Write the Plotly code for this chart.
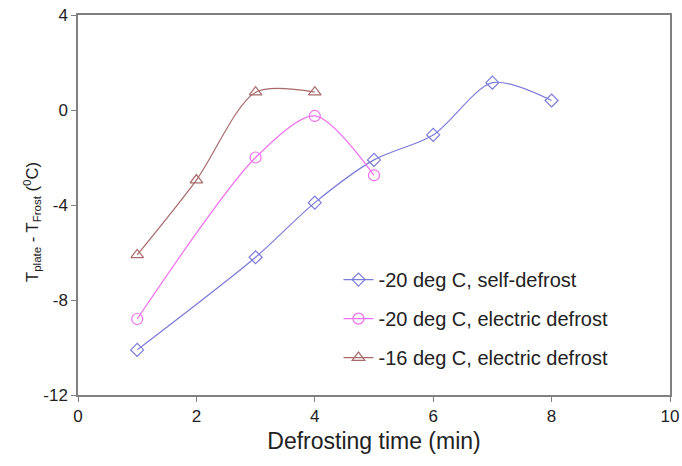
import plotly.graph_objects as go

x_self = [1, 3, 4, 5, 6, 7, 8]
y_self = [-10.1, -6.2, -3.9, -2.1, -1.05, 1.15, 0.4]
x_elec20 = [1, 3, 4, 5]
y_elec20 = [-8.8, -2.0, -0.25, -2.75]
x_elec16 = [1, 2, 3, 4]
y_elec16 = [-6.1, -2.95, 0.75, 0.75]
names = ["-20 deg C, self-defrost", "-20 deg C, electric defrost", "-16 deg C, electric defrost"]
x_ticks = [0, 2, 4, 6, 8, 10]
y_ticks = [4, 0, -4, -8, -12]
y_tick_labels = ["4", "0", "-4", "-8", "-12"]

FONT = "Liberation Sans, Arial, sans-serif"

fig = go.Figure()
series = [
    (x_self, y_self, names[0], "#7b7bd9", "diamond-open", 10, "g1"),
    (x_elec20, y_elec20, names[1], "#f070f0", "circle-open", 11, "g2"),
    (x_elec16, y_elec16, names[2], "#a86a6a", "triangle-up-open", 11, "g3"),
]
for xs, ys, nm, col, sym, sz, grp in series:
    fig.add_trace(go.Scatter(
        x=xs, y=ys, name=nm, mode="lines+markers", legendgroup=grp,
        line=dict(color=col, width=1.2, shape="spline", smoothing=0.8),
        marker=dict(symbol=sym, size=sz, color=col, line=dict(width=1.2, color=col)),
    ))

axis_common = dict(showline=True, linecolor="#808080", linewidth=1.5, mirror=True,
                   ticks="outside", ticklen=5, tickcolor="#808080", showgrid=False,
                   zeroline=False, automargin=False,
                   tickfont=dict(family=FONT, size=17, color="#222"))
fig.update_xaxes(range=[0, 10], tickvals=x_ticks, **axis_common,
                 title=dict(text="Defrosting time (min)", font=dict(family=FONT, size=23, color="#222"), standoff=8))
fig.update_yaxes(range=[-12, 4], tickvals=y_ticks, ticktext=y_tick_labels, **axis_common)
fig.add_annotation(
    text="T<sub>plate</sub> - T<sub>Frost</sub> (<sup>0</sup>C)",
    xref="paper", yref="paper", x=-0.078, y=0.455, xanchor="center", yanchor="middle",
    textangle=-90, showarrow=False, font=dict(family=FONT, size=16.5, color="#222"),
)
fig.update_layout(
    width=682, height=466,
    margin=dict(l=78, r=12, t=15, b=71),
    plot_bgcolor="white", paper_bgcolor="white",
    legend=dict(x=0.44, y=0.355, xanchor="left", yanchor="top", bgcolor="rgba(0,0,0,0)",
                font=dict(family=FONT, size=20, color="#222"),
                tracegroupgap=10, itemwidth=30),
    showlegend=True,
)
fig.write_html("out.html", config={"displayModeBar": False},
               post_script="document.body.style.margin='0px';document.body.style.overflow='hidden';")
